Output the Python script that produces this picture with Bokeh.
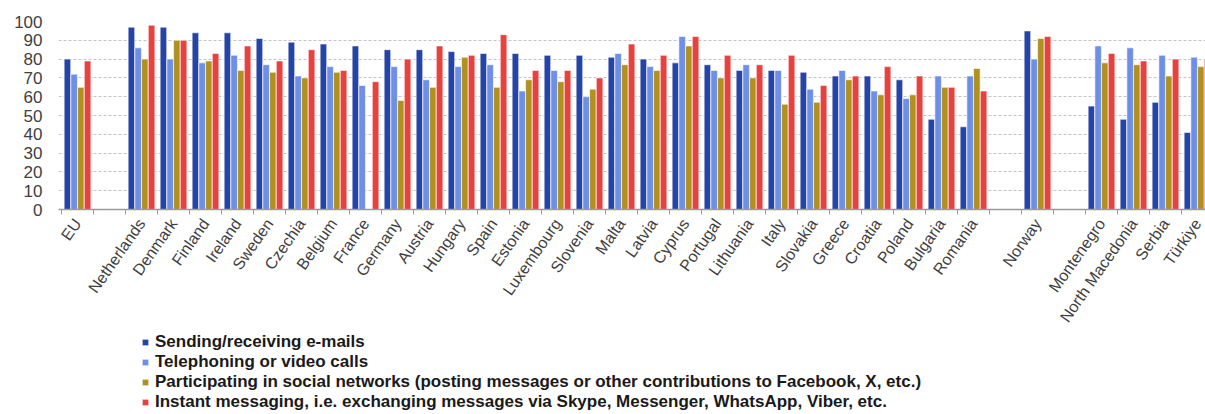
from bokeh.plotting import figure
from bokeh.layouts import column
from bokeh.models import (ColumnDataSource, Range1d, FixedTicker, Legend, LegendItem,
                          LinearAxis)
from bokeh.embed import file_html
from bokeh.resources import INLINE

# ---- data ----
slots = ["EU", None,
         "Netherlands", "Denmark", "Finland", "Ireland", "Sweden", "Czechia", "Belgium",
         "France", "Germany", "Austria", "Hungary", "Spain", "Estonia", "Luxembourg",
         "Slovenia", "Malta", "Latvia", "Cyprus", "Portugal", "Lithuania", "Italy",
         "Slovakia", "Greece", "Croatia", "Poland", "Bulgaria", "Romania", None,
         "Norway", None,
         "Montenegro", "North Macedonia", "Serbia", "Türkiye"]

countries = [s for s in slots if s is not None]

emails = [80, 97, 97, 94, 94, 91, 89, 88, 87, 85, 85, 84, 83, 83, 82, 82, 81, 80, 78,
          77, 74, 74, 73, 71, 71, 69, 48, 44, 95, 55, 48, 57, 41]
calls = [72, 86, 80, 78, 82, 77, 71, 76, 66, 76, 69, 76, 77, 63, 74, 60, 83, 76, 92,
         74, 77, 74, 64, 74, 63, 59, 71, 71, 80, 87, 86, 82, 81]
social = [65, 80, 90, 79, 74, 73, 70, 73, None, 58, 65, 81, 65, 69, 68, 64, 77, 74, 87,
          70, 70, 56, 57, 69, 61, 61, 65, 75, 91, 78, 77, 71, 76]
instant = [79, 98, 90, 83, 87, 79, 85, 74, 68, 80, 87, 82, 93, 74, 74, 70, 88, 82, 92,
           82, 77, 82, 66, 71, 76, 71, 65, 63, 92, 83, 79, 80, 80]

series_names = [
    "Sending/receiving e-mails",
    "Telephoning or video calls",
    "Participating in social networks (posting messages or other contributions to Facebook, X, etc.)",
    "Instant messaging, i.e. exchanging messages via Skype, Messenger, WhatsApp, Viber, etc.",
]
series_values = [emails, calls, social, instant]
colors = ["#2644A7", "#6E8FE6", "#B09120", "#E8413F"]
offsets = [-0.315, -0.105, 0.105, 0.315]

# category centres from slot positions
centers = [i + 0.5 for i, s in enumerate(slots) if s is not None]

W = 1205
H1, H2 = 333, 81
p = figure(width=W, height=H1, output_backend="svg", toolbar_location=None,
           x_range=Range1d(-0.094, 35.75), y_range=Range1d(0, 100),
           min_border_left=58, min_border_right=0, min_border_top=21,
           min_border_bottom=H1 - 210, outline_line_color=None, x_axis_type=None)

for name, vals, col, off in zip(series_names, series_values, colors, offsets):
    xs, tops = [], []
    for c, v in zip(centers, vals):
        if v is not None:
            xs.append(c + off)
            tops.append(v)
    src = ColumnDataSource(dict(x=xs, top=tops))
    p.vbar(x="x", top="top", bottom=0, width=0.205, source=src,
           fill_color=col, line_color="white", line_width=0.6)

# x axis: labels at centres, tick marks at slot boundaries
xaxis = LinearAxis(
    ticker=FixedTicker(ticks=centers, minor_ticks=list(range(0, len(slots) + 1))),
    major_label_overrides={c: n for c, n in zip(centers, countries)},
    major_tick_out=0, major_tick_in=0,
    minor_tick_out=5, minor_tick_in=0,
    minor_tick_line_color="#9a9a9a",
    axis_line_color="#9a9a9a", axis_line_width=1.5,
    major_label_orientation=0.96,
    major_label_standoff=6,
    major_label_text_font="Liberation Sans",
    major_label_text_font_size="16px",
    major_label_text_color="#404040",
)
p.add_layout(xaxis, "below")

p.yaxis.ticker = FixedTicker(ticks=list(range(0, 101, 10)))
p.yaxis.axis_line_color = None
p.yaxis.major_tick_line_color = None
p.yaxis.minor_tick_line_color = None
p.yaxis.major_label_standoff = 10
p.yaxis.major_label_text_font = "Liberation Sans"
p.yaxis.major_label_text_font_size = "17px"
p.yaxis.major_label_text_color = "#404040"

p.xgrid.grid_line_color = None
p.ygrid.grid_line_color = "#c4c4c4"
p.ygrid.grid_line_dash = "3 2"
p.ygrid.grid_line_width = 1

# legend panel below the chart (proxy glyphs lie far outside the visible range)
q = figure(width=W, height=H2, output_backend="svg", toolbar_location=None,
           x_range=Range1d(0, 1), y_range=Range1d(0, 1),
           x_axis_type=None, y_axis_type=None, outline_line_color=None,
           min_border_left=0, min_border_right=0, min_border_top=0, min_border_bottom=0)
q.xgrid.grid_line_color = None
q.ygrid.grid_line_color = None
items = []
for name, col in zip(series_names, colors):
    r = q.vbar(x=[0.5], top=[-5], bottom=[-6], width=0.1, fill_color=col,
               line_color="white", line_width=0.6)
    items.append(LegendItem(label=name, renderers=[r]))

legend = Legend(items=items, location=(83, 2), orientation="vertical",
                glyph_width=8, glyph_height=8, label_standoff=6,
                label_text_font="Liberation Sans", label_text_font_style="bold",
                label_text_font_size="17px", label_text_color="#1a1a1a",
                label_height=17, spacing=0, padding=0, margin=0,
                border_line_color=None, background_fill_alpha=0)
q.add_layout(legend)

layout = column(p, q, spacing=0)
open("out.html", "w").write(file_html(layout, INLINE))
